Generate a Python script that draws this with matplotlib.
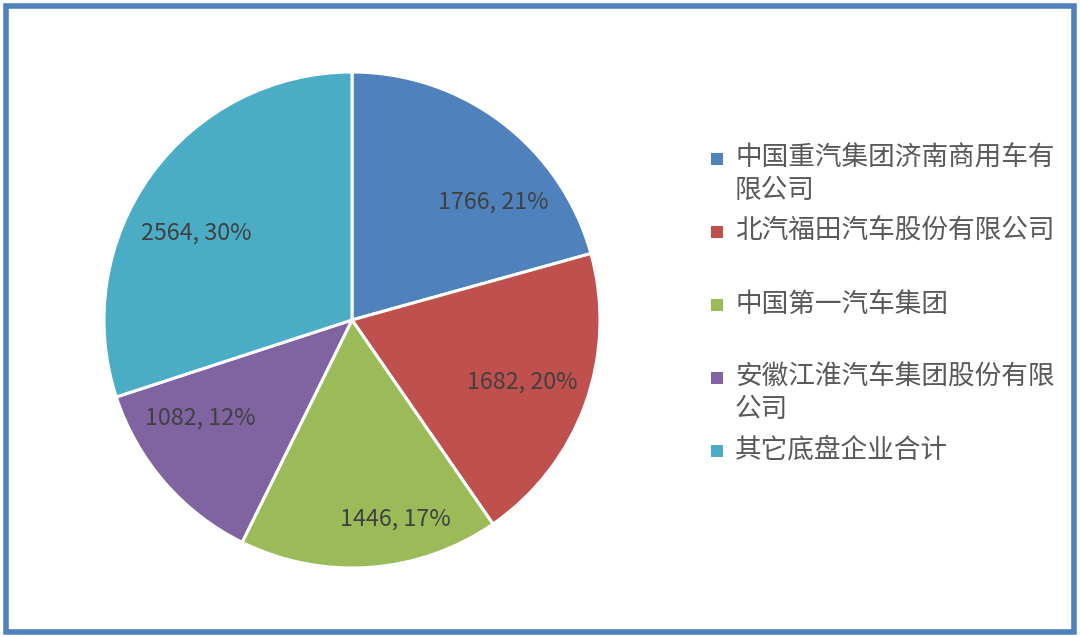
import numpy as np
import matplotlib
matplotlib.use("Agg")
import matplotlib.pyplot as plt
from matplotlib.patches import Rectangle

plt.rcParams["font.family"] = ["Noto Sans CJK SC", "DejaVu Sans"]

companies = ["中国重汽集团济南商用车有\n限公司", "北汽福田汽车股份有限公司", "中国第一汽车集团",
             "安徽江淮汽车集团股份有限\n公司", "其它底盘企业合计"]
values = [1766, 1682, 1446, 1082, 2564]
pct_labels = ["21%", "20%", "17%", "12%", "30%"]
colors = ["#4F81BD", "#C0504D", "#9BBB59", "#8064A2", "#4BACC6"]

W, H = 1080, 637
fig = plt.figure(figsize=(W / 100, H / 100), dpi=100)
fig.patch.set_facecolor("white")

# pie centre ~(352, 320) px, radius ~248 px
cx, cy, r = 352, 320, 248
ax = fig.add_axes([(cx - r) / W, (H - cy - r) / H, 2 * r / W, 2 * r / H])
wedges, _ = ax.pie(values, colors=colors, startangle=90, counterclock=False,
                   wedgeprops=dict(edgecolor="white", linewidth=2.2))
ax.set_xlim(-1, 1); ax.set_ylim(-1, 1); ax.set_aspect("equal"); ax.axis("off")

# data labels (Excel "best fit" style), nudges in degrees / radius
nudge = [-13, 0, 8, -8, 7]
rads = [0.74, 0.73, 0.82, 0.73, 0.72]
for w, v, p, dn, rr in zip(wedges, values, pct_labels, nudge, rads):
    ang = np.deg2rad((w.theta1 + w.theta2) / 2 + dn)
    ax.text(rr * np.cos(ang), rr * np.sin(ang), f"{v}, {p}", ha="center", va="center",
            fontsize=16.8, color="#404040")

# legend drawn by hand to match Excel's even spacing of first lines
for i, (lab, c) in enumerate(zip(companies, colors)):
    y = 159 + 73 * i
    fig.patches.append(Rectangle((711 / W, 1 - (y + 6) / H), 12 / W, 12 / H,
                                 transform=fig.transFigure, facecolor=c, edgecolor="none"))
    fig.text(735 / W, 1 - (y - 14) / H, lab, ha="left", va="top", fontsize=19.2,
             color="#595959", linespacing=1.25)

# chart border
fig.patches.append(Rectangle((5.5 / W, 5 / H), 1069 / W, 626 / H, transform=fig.transFigure,
                             facecolor="none", edgecolor="#4F81BD", linewidth=4.0))

fig.savefig("out.png", dpi=100)
